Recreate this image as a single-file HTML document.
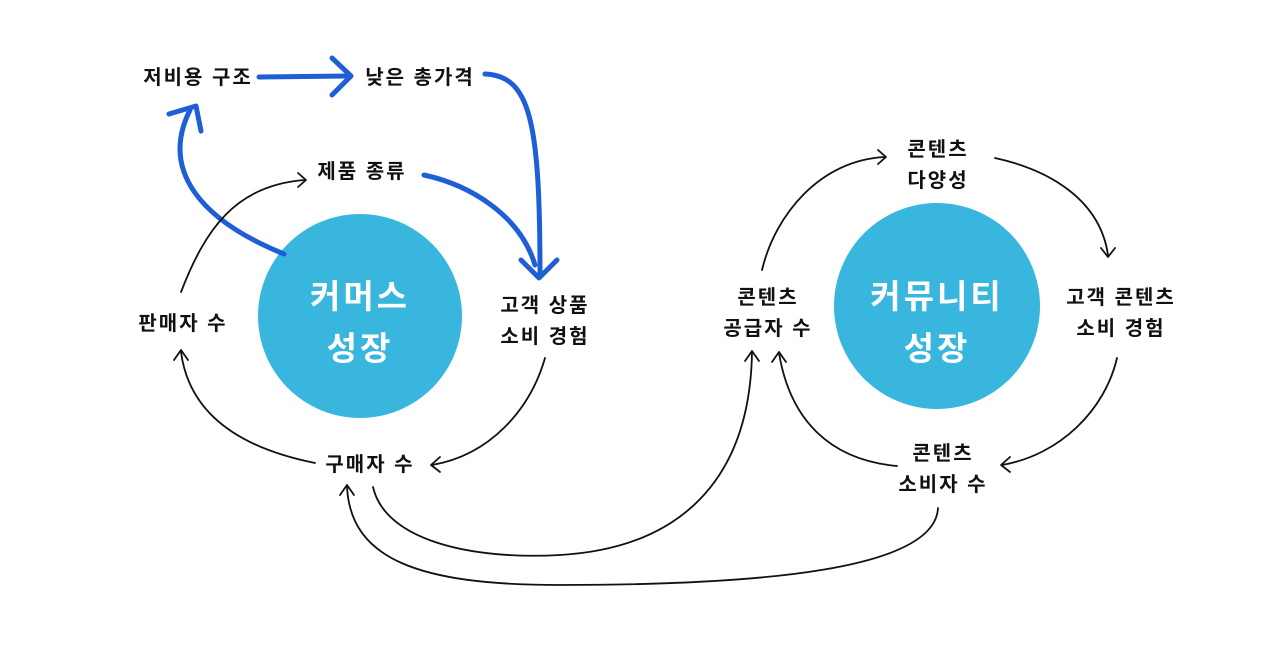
<!DOCTYPE html>
<html><head><meta charset="utf-8"><style>
html,body{margin:0;padding:0;background:#fff;width:1280px;height:648px;overflow:hidden}
text{font-family:"Liberation Sans","Noto Sans CJK KR",sans-serif;font-weight:bold;fill:#111;font-size:20px;letter-spacing:2px}
.w{fill:#fff;font-size:33px;letter-spacing:3px}
</style></head><body>
<svg width="1280" height="648" viewBox="0 0 1280 648" xmlns="http://www.w3.org/2000/svg">
<circle cx="360" cy="316" r="102" fill="#38b6de"/>
<circle cx="937" cy="306" r="103" fill="#38b6de"/>
<text class="w" x="360" y="308" text-anchor="middle">커머스</text>
<text class="w" x="360" y="360" text-anchor="middle">성장</text>
<text class="w" x="937" y="308" text-anchor="middle">커뮤니티</text>
<text class="w" x="937" y="360" text-anchor="middle">성장</text>

<g text-anchor="middle">
<text x="198" y="84">저비용 구조</text>
<text x="420" y="84">낮은 총가격</text>
<text x="362" y="178">제품 종류</text>
<text x="183" y="330">판매자 수</text>
<text x="545" y="312">고객 상품</text>
<text x="545" y="343">소비 경험</text>
<text x="370" y="471">구매자 수</text>
<text x="938" y="156">콘텐츠</text>
<text x="938" y="187">다양성</text>
<text x="768" y="304">콘텐츠</text>
<text x="768" y="335">공급자 수</text>
<text x="1121" y="304">고객 콘텐츠</text>
<text x="1121" y="335">소비 경험</text>
<text x="943" y="460">콘텐츠</text>
<text x="943" y="491">소비자 수</text>
</g>

<g fill="none" stroke="#1f5fd6" stroke-width="5" stroke-linecap="round" stroke-linejoin="round">
<path d="M259 77 L348 76"/><path d="M332 58 L351 76 L332 95"/>
<path d="M485 74 C530 76 540 120 540 275"/><path d="M521 260 L539 278 L557 260"/>
<path d="M424 175 C470 185 520 215 535 265"/>
<path d="M284 254 C200 220 160 170 190 110"/><path d="M169 114 L196 106 L201 131"/>
</g>
<g fill="none" stroke="#111" stroke-width="1.8" stroke-linecap="round" stroke-linejoin="round">
<path d="M181 292 C205 230 235 185 305 180"/><path d="M298 173 L306 180 L298 187"/>
<path d="M315 463 C250 450 190 420 181 352"/><path d="M174 360 L181 350 L188 360"/>
<path d="M545 358 C530 410 490 455 432 465"/><path d="M440 457 L431 465 L440 472"/>
<path d="M762 270 C775 215 820 160 885 157"/><path d="M878 150 L886 157 L878 164"/>
<path d="M995 158 C1050 170 1100 200 1108 255"/><path d="M1101 248 L1108 257 L1115 248"/>
<path d="M1117 358 C1105 410 1060 455 1002 465"/><path d="M1010 457 L1001 465 L1010 472"/>
<path d="M897 466 C830 460 790 420 779 353"/><path d="M772 362 L779 352 L786 362"/>
<path d="M373 487 C385 540 470 560 560 555 C680 548 750 480 752 352"/><path d="M745 361 L752 351 L759 361"/>
<path d="M938 508 C935 570 760 585 560 585 C420 585 350 560 347 486"/><path d="M340 495 L347 485 L354 495"/>
</g>
</svg>
</body></html>
